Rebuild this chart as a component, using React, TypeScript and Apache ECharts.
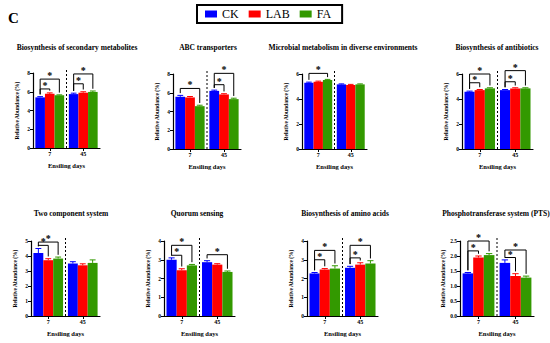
import React, { useEffect, useRef } from "react";
import * as echarts from "echarts";

const categories = ["7", "45"];
const seriesNames = ["CK", "LAB", "FA"];
const seriesColors = ["#0000FF", "#FF0000", "#339900"];

const panelTitles = [
  "Biosynthesis of secondary metabolites",
  "ABC transporters",
  "Microbial metabolism in diverse environments",
  "Biosynthesis of antibiotics",
  "Two component system",
  "Quorum sensing",
  "Biosynthesis of amino acids",
  "Phosphotransferase system (PTS)",
];

const ckValues = [[5.4, 5.75], [5.57, 6.2], [5.3, 5.17], [4.58, 4.71], [4.2, 3.5], [3.0, 2.87], [2.27, 2.57], [1.42, 1.77]];
const labValues = [[5.78, 5.9], [5.5, 5.82], [5.38, 5.12], [4.71, 4.85], [3.72, 3.38], [2.44, 2.74], [2.48, 2.74], [1.95, 1.33]];
const faValues = [[5.62, 5.98], [4.57, 5.32], [5.52, 5.17], [4.85, 4.85], [3.83, 3.54], [2.7, 2.35], [2.53, 2.8], [2.03, 1.28]];

const ckErrors = [[0.08, 0.1], [0.15, 0.08], [0.05, 0.04], [0.05, 0.05], [0.3, 0.12], [0.1, 0.08], [0.05, 0.08], [0.03, 0.1]];
const labErrors = [[0.1, 0.1], [0.1, 0.08], [0.05, 0.05], [0.05, 0.05], [0.1, 0.1], [0.08, 0.05], [0.05, 0.1], [0.05, 0.08]];
const faErrors = [[0.05, 0.1], [0.1, 0.1], [0.05, 0.04], [0.05, 0.05], [0.1, 0.2], [0.05, 0.05], [0.15, 0.15], [0.05, 0.05]];

const yMaxValues = [8, 8, 6, 6, 5, 4, 4, 2.5];
const yIntervals = [2, 2, 2, 2, 1, 1, 1, 0.5];

// [category index, from bar, to bar, bracket height]
const brackets = [
  [[0, 0, 1, 6.3], [0, 0, 2, 7.35], [1, 0, 1, 6.85], [1, 0, 2, 7.9]],
  [[0, 0, 2, 6.46], [1, 0, 1, 6.86], [1, 0, 2, 8.07]],
  [[0, 0, 2, 6.05]],
  [[0, 0, 1, 5.3], [0, 0, 2, 6.0], [1, 0, 1, 5.38], [1, 0, 2, 6.27]],
  [[0, 0, 1, 4.71], [0, 0, 2, 4.93]],
  [[0, 0, 1, 3.24], [0, 0, 2, 3.77], [1, 0, 2, 3.27]],
  [[0, 0, 1, 3.0], [0, 0, 2, 3.5], [1, 0, 1, 3.1], [1, 0, 2, 3.77]],
  [[0, 0, 1, 2.17], [0, 0, 2, 2.5], [1, 0, 1, 1.95], [1, 0, 2, 2.2]],
];

const FONT = "Liberation Serif";
const CAT_GAP = 0.14;

const layouts = [
  { left: 33, top: 73, width: 67, height: 75, titleX: 72, titleY: 38 },
  { left: 173, top: 74, width: 68, height: 75, titleX: 203, titleY: 38 },
  { left: 302, top: 74, width: 65, height: 75, titleX: 338, titleY: 38 },
  { left: 462, top: 74, width: 71, height: 75, titleX: 492, titleY: 38 },
  { left: 31, top: 241, width: 69, height: 75, titleX: 66, titleY: 204 },
  { left: 164, top: 241, width: 71, height: 75, titleX: 192, titleY: 204 },
  { left: 307, top: 241, width: 71, height: 75, titleX: 340, titleY: 204 },
  { left: 460, top: 241, width: 74, height: 75, titleX: 491, titleY: 204 },
];

function buildOption() {
  const grids: any[] = [];
  const xAxes: any[] = [];
  const yAxes: any[] = [];
  const series: any[] = [];
  const titles: any[] = [
    {
      text: "C",
      left: 3,
      top: 5,
      textStyle: { fontFamily: FONT, fontWeight: "bold", fontSize: 15, color: "#000" },
    },
  ];
  const valueSets = [ckValues, labValues, faValues];
  const errorSets = [ckErrors, labErrors, faErrors];

  layouts.forEach((L, p) => {
    grids.push({ left: L.left, top: L.top, width: L.width, height: L.height, containLabel: false });
    titles.push({
      text: panelTitles[p],
      left: L.titleX,
      top: L.titleY,
      textAlign: "center",
      textStyle: { fontFamily: FONT, fontWeight: "bold", fontSize: 7.5, color: "#000" },
    });
    const ymax = yMaxValues[p];
    xAxes.push({
      type: "category",
      gridIndex: p,
      data: categories,
      name: "Ensiling days",
      nameLocation: "middle",
      nameGap: 14,
      nameTextStyle: { fontFamily: FONT, fontWeight: "bold", fontSize: 6.5, color: "#000" },
      axisLine: { show: true, lineStyle: { color: "#000", width: 1.2 } },
      axisTick: { show: true, alignWithLabel: true, length: 3, lineStyle: { color: "#000", width: 1 } },
      axisLabel: { fontFamily: FONT, fontWeight: "bold", fontSize: 6, color: "#000", margin: 3 },
      splitLine: { show: false },
    });
    yAxes.push({
      type: "value",
      gridIndex: p,
      min: 0,
      max: ymax,
      interval: yIntervals[p],
      name: "Relative Abundance (%)",
      nameLocation: "middle",
      nameGap: 13,
      nameTextStyle: { fontFamily: FONT, fontWeight: "bold", fontSize: 5.5, color: "#000" },
      axisLine: { show: true, lineStyle: { color: "#000", width: 1.2 } },
      axisTick: { show: true, length: 3, lineStyle: { color: "#000", width: 1 } },
      axisLabel: {
        fontFamily: FONT,
        fontWeight: "bold",
        fontSize: 5.5,
        color: "#000",
        margin: 3,
        formatter: (v: number) => (yIntervals[p] < 1 ? v.toFixed(1) : String(v)),
      },
      splitLine: { show: false },
    });
    for (let s = 0; s < 3; s++) {
      series.push({
        type: "bar",
        name: seriesNames[s],
        xAxisIndex: p,
        yAxisIndex: p,
        data: valueSets[s][p],
        barGap: "0%",
        barCategoryGap: CAT_GAP * 100 + "%",
        itemStyle: { color: seriesColors[s] },
        z: 2,
      });
    }
    series.push({
      type: "custom",
      xAxisIndex: p,
      yAxisIndex: p,
      silent: true,
      clip: false,
      z: 10,
      data: [[0, 0]],
      renderItem: (params: any, api: any) => {
        const band = api.size([1, 0])[0];
        const bw = (band * (1 - CAT_GAP)) / 3;
        const barX = (c: number, b: number) => api.coord([c, 0])[0] + (b - 1) * bw;
        const yOf = (v: number) => api.coord([0, v])[1];
        const children: any[] = [];
        // error bars
        for (let s = 0; s < 3; s++) {
          for (let c = 0; c < categories.length; c++) {
            const v = valueSets[s][p][c];
            const e = errorSets[s][p][c];
            const x = barX(c, s);
            children.push({
              type: "line",
              shape: { x1: x, y1: yOf(v), x2: x, y2: yOf(v + e) },
              style: { stroke: seriesColors[s], lineWidth: 1 },
            });
            children.push({
              type: "line",
              shape: { x1: x - bw * 0.3, y1: yOf(v + e), x2: x + bw * 0.3, y2: yOf(v + e) },
              style: { stroke: seriesColors[s], lineWidth: 1 },
            });
          }
        }
        // divider
        const xDiv = api.coord([0, 0])[0] + band / 2;
        children.push({
          type: "line",
          shape: { x1: xDiv, y1: yOf(0), x2: xDiv, y2: yOf(ymax * 1.05) },
          style: { stroke: "#000", lineWidth: 1, lineDash: [2, 2] },
        });
        // brackets
        const pad = ymax * 0.03;
        brackets[p].forEach((br) => {
          const [c, b1, b2, h] = br;
          const x1 = barX(c, b1);
          const x2 = barX(c, b2);
          const top1 = valueSets[b1][p][c] + errorSets[b1][p][c] + pad;
          const top2 = valueSets[b2][p][c] + errorSets[b2][p][c] + pad;
          children.push({
            type: "polyline",
            shape: {
              points: [
                [x1, yOf(top1)],
                [x1, yOf(h)],
                [x2, yOf(h)],
                [x2, yOf(top2)],
              ],
            },
            style: { stroke: "#000", lineWidth: 1, fill: null },
          });
          children.push({
            type: "text",
            x: (x1 + x2) / 2,
            y: yOf(h) + 1.5,
            style: {
              text: "*",
              fill: "#000",
              font: "bold 10px " + FONT,
              textAlign: "center",
              textVerticalAlign: "bottom",
            },
          });
        });
        return { type: "group", children };
      },
    });
  });

  return {
    animation: false,
    backgroundColor: "#fff",
    title: titles,
    legend: {
      data: seriesNames,
      left: 197,
      top: 5,
      itemWidth: 12,
      itemHeight: 7,
      itemGap: 10,
      icon: "rect",
      padding: [3, 11, 3, 8],
      borderColor: "#000",
      borderWidth: 2,
      textStyle: { fontFamily: FONT, fontSize: 12, color: "#000" },
    },
    grid: grids,
    xAxis: xAxes,
    yAxis: yAxes,
    series,
  };
}

export default function App() {
  const ref = useRef<HTMLDivElement>(null);
  useEffect(() => {
    document.body.style.margin = "0";
    const chart = echarts.init(ref.current!, null, { renderer: "svg" });
    chart.setOption(buildOption() as any);
    return () => chart.dispose();
  }, []);
  return <div ref={ref} style={{ width: 550, height: 343 }} />;
}
